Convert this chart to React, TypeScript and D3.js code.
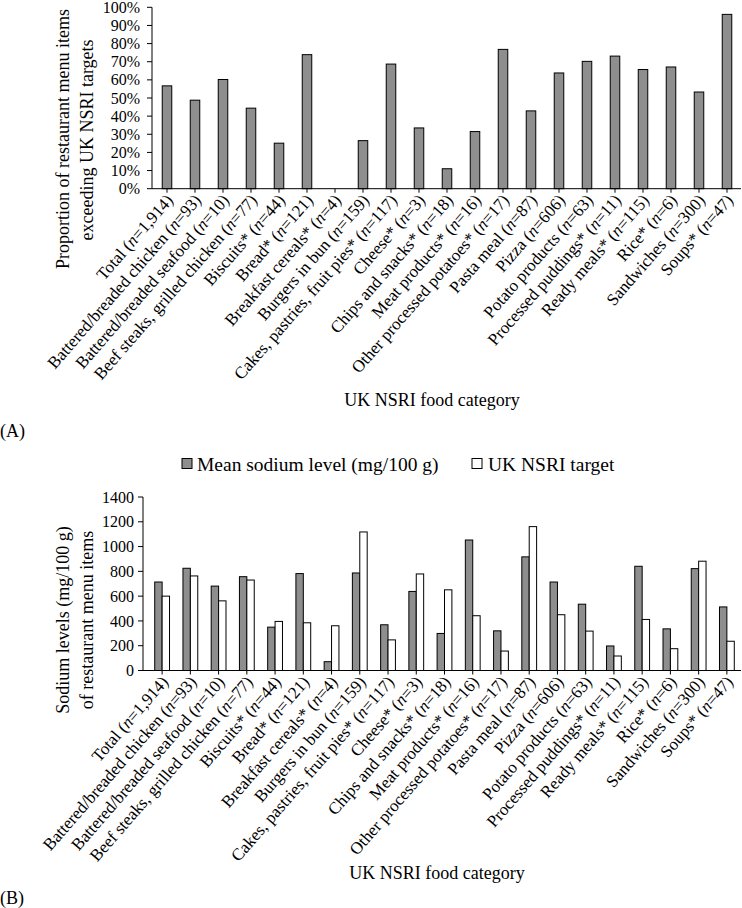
import React from 'react';
import * as d3 from 'd3';

// Food categories (label text, sample size)
const categoryNames = [
  'Total', 'Battered/breaded chicken', 'Battered/breaded seafood', 'Beef steaks, grilled chicken',
  'Biscuits*', 'Bread*', 'Breakfast cereals*', 'Burgers in bun', 'Cakes, pastries, fruit pies*',
  'Cheese*', 'Chips and snacks*', 'Meat products*', 'Other processed potatoes*', 'Pasta meal',
  'Pizza', 'Potato products', 'Processed puddings*', 'Ready meals*', 'Rice*', 'Sandwiches', 'Soups*',
];
const categoryCounts = [
  '1,914', '93', '10', '77', '44', '121', '4', '159', '117', '3', '18', '16', '17', '87',
  '606', '63', '11', '115', '6', '300', '47',
];

// (A) share of items exceeding targets, %
const pctExceeding = [
  56.7, 48.8, 60.2, 44.4, 25.1, 73.9, 0, 26.5, 68.7, 33.5, 11.0, 31.5, 76.8, 42.9,
  63.8, 70.2, 73.1, 65.7, 67.1, 53.3, 96.1,
];

// (B) sodium, mg/100 g
const meanSodium = [
  714, 825, 681, 757, 350, 782, 71, 787, 369, 638, 299, 1053, 320, 917,
  714, 535, 198, 841, 336, 822, 513,
];
const nsriTarget = [
  600, 763, 562, 730, 396, 385, 361, 1118, 247, 779, 651, 442, 157, 1161,
  450, 318, 117, 412, 176, 882, 236,
];

const pctTicks = [0, 10, 20, 30, 40, 50, 60, 70, 80, 90, 100];
const sodiumTicks = [0, 200, 400, 600, 800, 1000, 1200, 1400];

const seriesNames = ['Mean sodium level (mg/100 g)', 'UK NSRI target'];

const FONT = '"Liberation Serif", "Times New Roman", serif';
const GREY = '#8e8e8e';

function CategoryLabel({ x, y, i }: { x: number; y: number; i: number }) {
  return (
    <text
      transform={`translate(${x},${y}) rotate(-49)`}
      textAnchor="end"
      fontSize={17}
      fontFamily={FONT}
    >
      {categoryNames[i]} (<tspan fontStyle="italic">n</tspan>={categoryCounts[i]})
    </text>
  );
}

export default function App() {
  const W = 742;
  const H = 908;

  // Panel A scales
  const xA = d3.scaleBand<number>().domain(d3.range(categoryNames.length)).range([153, 741]).paddingInner(0.66).paddingOuter(0.33);
  const yA = d3.scaleLinear().domain([0, 100]).range([188.7, 7.3]);
  const axisAx = 152;

  // Panel B scales
  const xB = d3.scaleBand<number>().domain(d3.range(categoryNames.length)).range([148, 741]);
  const yB = d3.scaleLinear().domain([0, 1400]).range([670.5, 497]);
  const axisBx = 143;
  const barW = 7.4;

  const catTitle = 'UK NSRI food category';

  return (
    <svg
      width={W}
      height={H}
      style={{ position: 'absolute', left: 0, top: 0, background: '#fff' }}
      fontFamily={FONT}
    >
      <rect width={W} height={H} fill="#fff" />

      {/* ---------- Panel A ---------- */}
      <g>
        {pctExceeding.map((v, i) => (
          v > 0 ? (
            <rect
              key={i}
              x={xA(i)!}
              y={yA(v)}
              width={xA.bandwidth()}
              height={yA(0) - yA(v)}
              fill={GREY}
              stroke="#000"
              strokeWidth={1}
            />
          ) : null
        ))}
        <line x1={axisAx} x2={axisAx} y1={yA(100)} y2={yA(0)} stroke="#000" />
        <line x1={axisAx} x2={741} y1={yA(0)} y2={yA(0)} stroke="#000" />
        {pctTicks.map((t) => (
          <g key={t}>
            <line x1={axisAx - 5} x2={axisAx} y1={yA(t)} y2={yA(t)} stroke="#000" />
            <text x={axisAx - 12} y={yA(t)} dy="0.35em" textAnchor="end" fontSize={16}>
              {t}%
            </text>
          </g>
        ))}
        {categoryNames.map((_, i) => {
          const cx = xA(i)! + xA.bandwidth() / 2;
          return (
            <g key={i}>
              <line x1={cx} x2={cx} y1={yA(0)} y2={yA(0) + 4} stroke="#000" />
              <CategoryLabel x={cx + 7} y={yA(0) + 12} i={i} />
            </g>
          );
        })}
        <text transform="translate(69,139) rotate(-90)" textAnchor="middle" fontSize={18}>
          Proportion of restaurant menu items
        </text>
        <text transform="translate(93,140) rotate(-90)" textAnchor="middle" fontSize={18}>
          exceeding UK NSRI targets
        </text>
        <text x={432} y={406} textAnchor="middle" fontSize={18}>{catTitle}</text>
        <text x={0} y={437} fontSize={18}>(A)</text>
      </g>

      {/* ---------- Legend ---------- */}
      <g>
        <rect x={182} y={458.5} width={10} height={10} fill={GREY} stroke="#000" />
        <text x={197} y={464} dy="0.35em" fontSize={19.5}>{seriesNames[0]}</text>
        <rect x={472} y={458.5} width={10} height={10} fill="#fff" stroke="#000" />
        <text x={488} y={464} dy="0.35em" fontSize={19.5}>{seriesNames[1]}</text>
      </g>

      {/* ---------- Panel B ---------- */}
      <g>
        {meanSodium.map((v, i) => {
          const cx = xB(i)! + xB.bandwidth() / 2;
          return (
            <g key={i}>
              <rect x={cx - barW} y={yB(v)} width={barW} height={yB(0) - yB(v)} fill={GREY} stroke="#000" />
              <rect x={cx} y={yB(nsriTarget[i])} width={barW} height={yB(0) - yB(nsriTarget[i])} fill="#fff" stroke="#000" />
            </g>
          );
        })}
        <line x1={axisBx} x2={axisBx} y1={yB(1400)} y2={yB(0)} stroke="#000" />
        <line x1={axisBx} x2={741} y1={yB(0)} y2={yB(0)} stroke="#000" />
        {sodiumTicks.map((t) => (
          <g key={t}>
            <line x1={axisBx - 5} x2={axisBx} y1={yB(t)} y2={yB(t)} stroke="#000" />
            <text x={axisBx - 9} y={yB(t)} dy="0.35em" textAnchor="end" fontSize={16}>
              {t}
            </text>
          </g>
        ))}
        {categoryNames.map((_, i) => {
          const cx = xB(i)! + xB.bandwidth() / 2;
          return (
            <g key={i}>
              <line x1={cx} x2={cx} y1={yB(0)} y2={yB(0) + 4} stroke="#000" />
              <CategoryLabel x={cx + 7} y={yB(0) + 12} i={i} />
            </g>
          );
        })}
        <text transform="translate(69,620) rotate(-90)" textAnchor="middle" fontSize={18}>
          Sodium levels (mg/100 g)
        </text>
        <text transform="translate(93,620) rotate(-90)" textAnchor="middle" fontSize={18}>
          of restaurant menu items
        </text>
        <text x={437} y={879} textAnchor="middle" fontSize={18}>{catTitle}</text>
        <text x={0} y={904} fontSize={18}>(B)</text>
      </g>
    </svg>
  );
}
